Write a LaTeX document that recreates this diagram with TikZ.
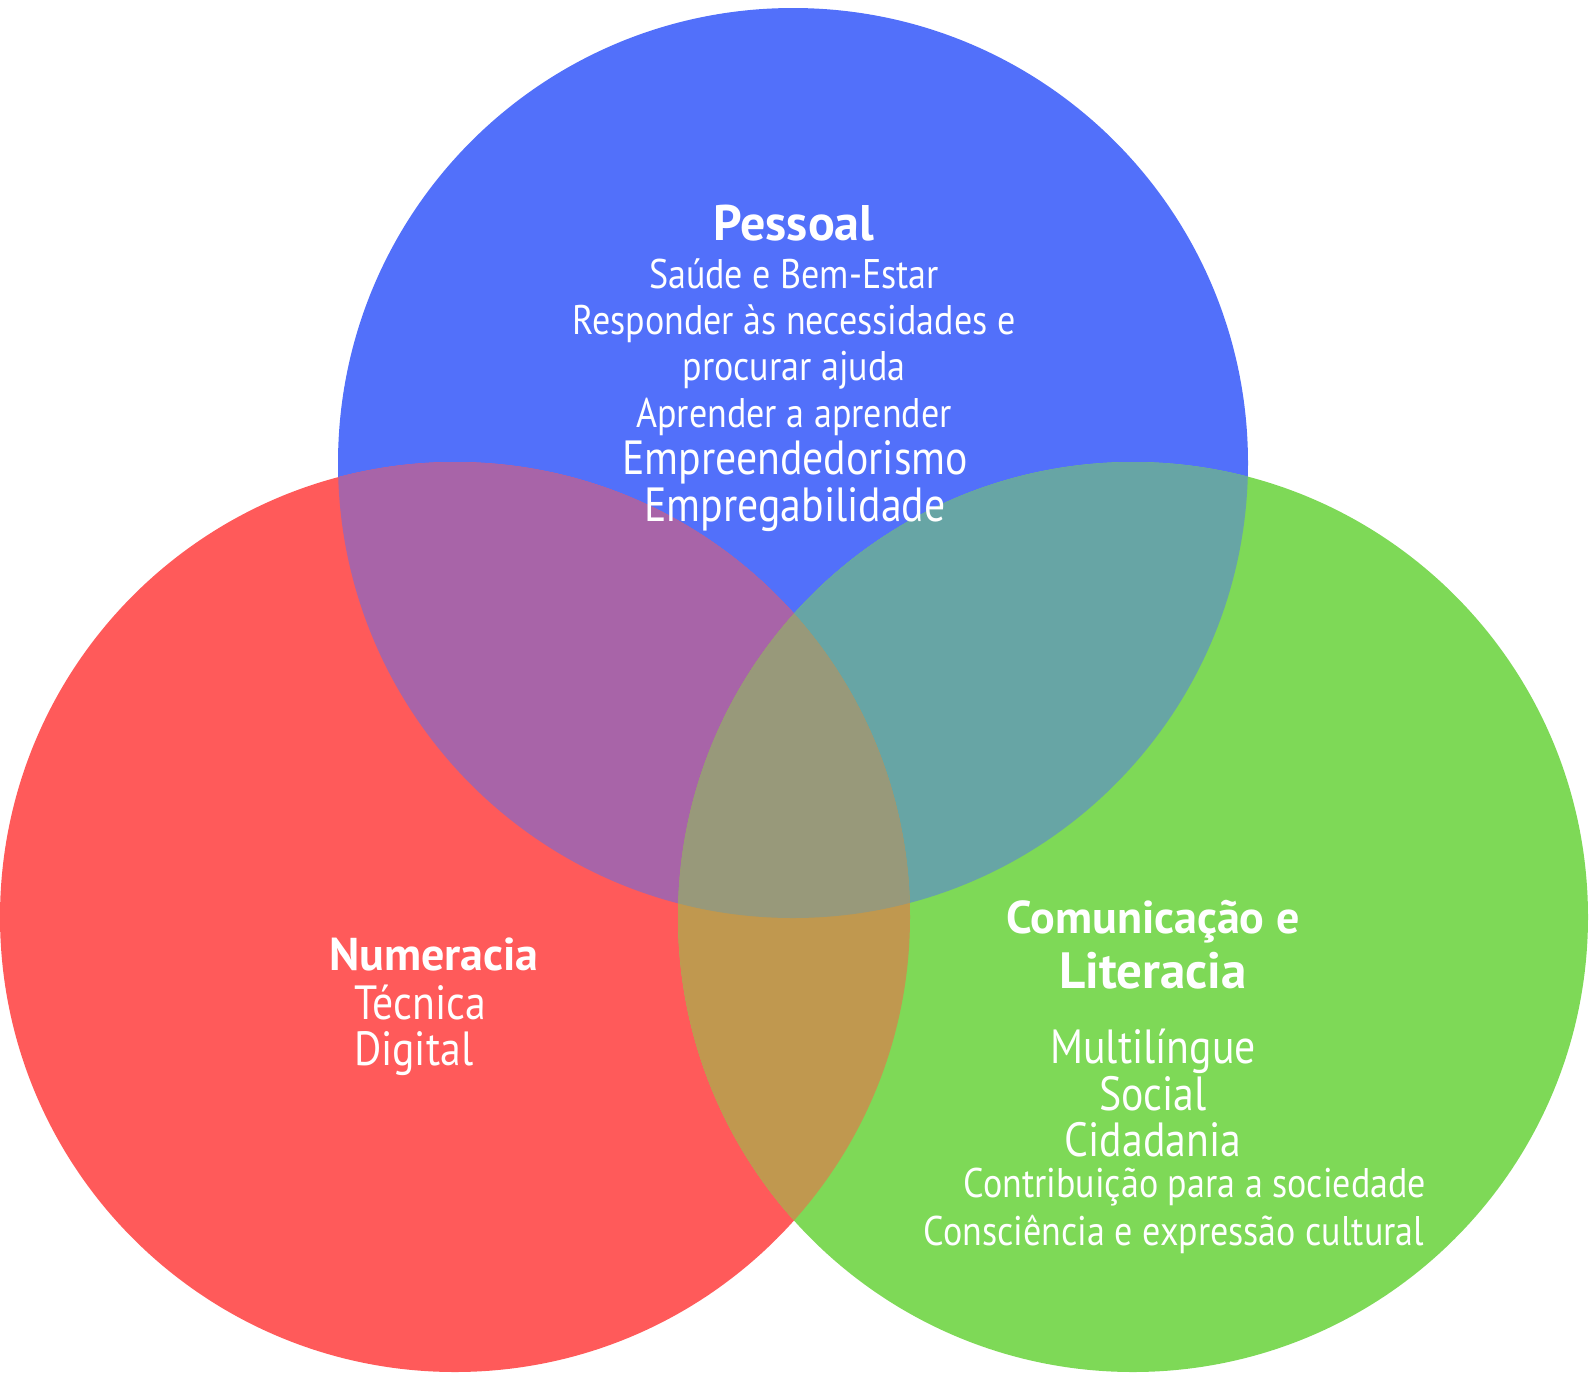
\documentclass[tikz,border=0pt]{standalone}
\usepackage{fontspec}
\setmainfont[FakeStretch=0.87]{PT Sans}
\newfontfamily\headfont{PT Sans}
\usetikzlibrary{positioning}

\definecolor{pessoalblue}{RGB}{82,112,250}
\definecolor{numred}{RGB}{255,90,90}
\definecolor{comgreen}{RGB}{126,217,87}
\definecolor{pessoalnum}{RGB}{168,100,168}
\definecolor{pessoalcom}{RGB}{103,165,165}
\definecolor{numcom}{RGB}{192,152,79}
\definecolor{allthree}{RGB}{152,153,122}

\begin{document}
\begin{tikzpicture}[x=0.5pt,y=-0.5pt,
  area/.style={radius=227.5pt},
  heading/.style={text=white,font=\headfont\bfseries\fontsize{23}{27.5}\selectfont,align=center},
  item/.style={text=white,font=\fontsize{20.7}{23.2}\selectfont,align=center},
  bigitem/.style={text=white,font=\fontsize{24}{23.2}\selectfont,align=center}]

\useasboundingbox (0,0) rectangle (1590,1372);

\coordinate (pessoalc) at (793,463);
\coordinate (numc) at (455,917);
\coordinate (comc) at (1133,917);

\fill [pessoalblue] (pessoalc) circle [area];
\fill [numred] (numc) circle [area];
\fill [comgreen] (comc) circle [area];

\begin{scope}
\clip (pessoalc) circle [area];
\fill [pessoalnum] (numc) circle [area];
\fill [pessoalcom] (comc) circle [area];
\end{scope}
\begin{scope}
\clip (numc) circle [area];
\fill [numcom] (comc) circle [area];
\clip (pessoalc) circle [area];
\fill [allthree] (comc) circle [area];
\end{scope}

\node [heading,font=\headfont\bfseries\fontsize{25}{27.5}\selectfont] (pessoal) at (794,223) {Pessoal};
\node [item] (pessoallist) at (794,347) {Sa\'ude e Bem-Estar\\Responder \`as necessidades e\\procurar ajuda\\Aprender a aprender};
\node [bigitem] (pessoalmore) at (795,486) {Empreendedorismo\\Empregabilidade};

\node [heading] (num) at (434,954) {Numeracia};
\node [bigitem,align=left,anchor=west] (numlist) at (347,1030) {T\'ecnica\\Digital};

\node [heading] (com) at (1153,945) {Comunica\c{c}\~ao e\\{\fontsize{25.5}{27.5}\selectfont Literacia}};
\node [bigitem] (comlist) at (1153,1093) {Multil\'ingue\\Social\\Cidadania};
\node [item] (contrib) at (1195,1187) {Contribui\c{c}\~ao para a sociedade};
\node [item] (consc) at (1174,1234) {Consci\^encia e express\~ao cultural};

\end{tikzpicture}
\end{document}
